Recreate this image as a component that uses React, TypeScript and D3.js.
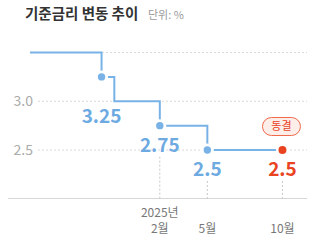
import React from "react";
import * as d3 from "d3";

const stepDates = ["2024-06-16", "2024-11-03", "2024-11-28", "2025-02-25", "2025-05-29", "2025-10-23"];
const stepValues = [3.5, 3.25, 3.0, 2.75, 2.5, 2.5];
const markerIdx = [1, 3, 4, 5];
const valueLabels = ["3.25", "2.75", "2.5", "2.5"];
const yTicks = [2.5, 3.0, 3.5];
const yTickLabels = ["2.5", "3.0", ""];
const xTickDates = ["2025-02-25", "2025-05-29", "2025-10-23"];
const xTickLabels = [["2025년", "2월"], ["5월"], ["10월"]];
const badgeText = "동결";

const W = 315, H = 244;
const FONT = "'Noto Sans CJK KR', 'Noto Sans', sans-serif";
const BLUE = "#78b2e6";
const BLUE_TEXT = "#6eaae2";
const RED = "#e9441f";

export default function App() {
  const parse = d3.timeParse("%Y-%m-%d");
  const dates = stepDates.map((d) => parse(d) as Date);
  const x = d3.scaleTime().domain([parse("2024-06-16") as Date, parse("2025-12-10") as Date]).range([30, 307]);
  const y = d3.scaleLinear().domain([2.5, 3.5]).range([150, 52.5]);
  const axisY = 198.5;
  const data = dates.map((d, i) => ({ d, v: stepValues[i] }));
  const line = d3.line<{ d: Date; v: number }>().x((p) => x(p.d)).y((p) => y(p.v)).curve(d3.curveStepAfter);

  const labelBase = (i: number) => {
    const px = x(dates[i]);
    let minV = stepValues[i];
    dates.forEach((d, j) => {
      if (j > i && Math.abs(x(d) - px) < 20) minV = Math.min(minV, stepValues[j]);
    });
    return y(minV) + (minV !== stepValues[i] ? 22 : 26);
  };

  const last = markerIdx[markerIdx.length - 1];
  const lineGap = 16.5;

  return (
    <svg width={W} height={H} style={{ position: "absolute", left: 0, top: 0, background: "#fff" }} fontFamily={FONT}>
      <text x={25} y={19} fontSize={14.5} fontWeight={700} fill="#333">기준금리 변동 추이</text>
      <text x={148} y={19} fontSize={11} fill="#9a9a9a">단위: %</text>

      {yTicks.map((t, i) => (
        <g key={t}>
          <line x1={38} x2={307} y1={y(t)} y2={y(t)} stroke="#d9d9d9" strokeDasharray="2,2" strokeWidth={1} />
          {yTickLabels[i] && (
            <text x={33} y={y(t)} dy="0.36em" textAnchor="end" fontSize={14} fill="#ababab">{yTickLabels[i]}</text>
          )}
        </g>
      ))}

      <line x1={8} x2={307} y1={axisY} y2={axisY} stroke="#d6d6d6" strokeWidth={1} />

      {xTickDates.map((s, i) => {
        const d = parse(s) as Date;
        const idx = dates.findIndex((dd) => +dd === +d);
        const top = idx >= 0 ? labelBase(idx) + 5 : y(2.5);
        const lbl = xTickLabels[i];
        const cx = x(d);
        return (
          <g key={s}>
            <line x1={cx} x2={cx} y1={top} y2={axisY} stroke="#c8c8c8" strokeDasharray="2,2" strokeWidth={1} />
            {lbl.map((t, k) => (
              <text key={k} x={cx} y={233 - (lbl.length - 1 - k) * lineGap} textAnchor="middle" fontSize={12} fill="#777">{t}</text>
            ))}
          </g>
        );
      })}

      <path d={line(data) || ""} fill="none" stroke={BLUE} strokeWidth={2} />

      {markerIdx.map((i, k) => {
        const isLast = i === last;
        const cx = x(dates[i]);
        const cy = y(stepValues[i]);
        return (
          <g key={i}>
            <circle cx={cx} cy={cy} r={6.5} fill="#fff" />
            <circle cx={cx} cy={cy} r={isLast ? 4 : 3.7} fill={isLast ? RED : BLUE} />
            <text x={cx} y={labelBase(i)} textAnchor="middle" fontSize={19} fontWeight={700} fill={isLast ? RED : BLUE_TEXT}>{valueLabels[k]}</text>
          </g>
        );
      })}

      {(() => {
        const cx = x(dates[last]) - 1;
        const cy = y(stepValues[last]) - 23.5;
        return (
          <g>
            <rect x={cx - 19} y={cy - 9} width={38} height={18} rx={9} fill="#fdeee9" stroke="#ee6a4b" strokeWidth={1} />
            <text x={cx} y={cy} dy="0.36em" textAnchor="middle" fontSize={11} fill={RED}>{badgeText}</text>
          </g>
        );
      })()}
    </svg>
  );
}
